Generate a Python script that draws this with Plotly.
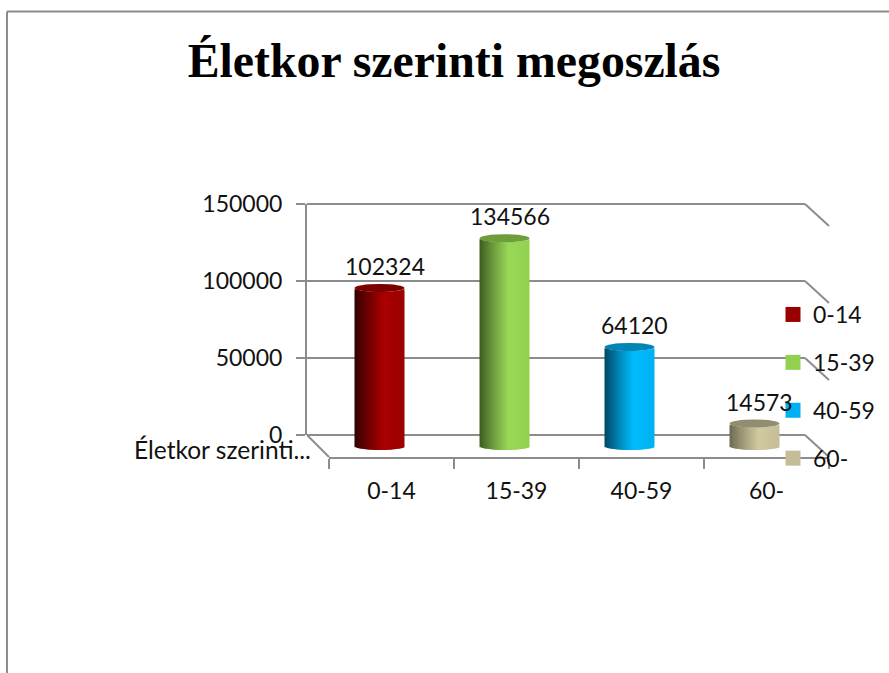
import plotly.graph_objects as go
import math

categories = ["0-14", "15-39", "40-59", "60-"]
values = [102324, 134566, 64120, 14573]
y_ticks = [0, 50000, 100000, 150000]
y_tick_text = ["0", "50000", "100000", "150000"]
colors = ["#9b0000", "#92d050", "#00b0f0", "#c4bd97"]
dark = ["#300000", "#3c5a20", "#004660", "#6c6850"]
bright = ["#aa0000", "#9ad858", "#00bcff", "#d0c9a0"]
top_colors = ["#7c0000", "#6e9e3c", "#0085b5", "#918d70"]

W, H = 889, 673
GRAY = "#8c8c8c"
TEXT = "#111111"
FONT = "Lato"
FS = 23


def fx(p):
    return p / W


def fy(p):
    return 1 - p / H


def mix(c1, c2, t):
    a = [int(c1[i:i + 2], 16) for i in (1, 3, 5)]
    b = [int(c2[i:i + 2], 16) for i in (1, 3, 5)]
    return "#%02x%02x%02x" % tuple(round(a[k] + (b[k] - a[k]) * t) for k in range(3))


fig = go.Figure()

# wall subplot (grid) and front axis (labels)
fig.add_trace(go.Scatter(x=[None], y=[None], xaxis="x", yaxis="y", showlegend=False, hoverinfo="skip"))
fig.add_trace(go.Scatter(x=categories, y=[None] * 4, xaxis="x2", yaxis="y3", showlegend=False, hoverinfo="skip"))

# cylinders: vertical shaded slices
N = 25
BAR_W = 0.4
E_BAR = 2590  # ellipse half-height in data units
for i in range(N):
    t0 = i / N
    tm = (i + 0.5) / N
    u = 2 * tm - 1
    b = E_BAR * math.sqrt(max(0, 1 - u * u))
    cols = []
    for k in range(4):
        if tm < 0.58:
            cols.append(mix(dark[k], bright[k], (tm / 0.58) ** 0.9))
        else:
            cols.append(mix(bright[k], colors[k], (tm - 0.58) / 0.42))
    slice_w = BAR_W / N * (1.6 if i < N - 1 else 1.0)
    fig.add_trace(go.Bar(
        x=categories, y=values, base=[-b] * 4,
        width=slice_w, offset=-BAR_W / 2 + t0 * BAR_W,
        marker=dict(color=cols, opacity=1, line=dict(width=0)),
        xaxis="x3", yaxis="y2", showlegend=False, hoverinfo="skip",
    ))

# legend entries
for c, col in zip(categories, colors):
    fig.add_trace(go.Scatter(
        x=[None], y=[None], mode="markers", name=c, xaxis="x", yaxis="y",
        marker=dict(symbol="square", size=15, color=col, line=dict(width=0)),
        legendgroup=c,
    ))

shapes = []
# cylinder tops
for k, v in enumerate(values):
    shapes.append(dict(type="circle", xref="x3", yref="y2", layer="above",
                       x0=k - BAR_W / 2, x1=k + BAR_W / 2, y0=v - E_BAR, y1=v + E_BAR,
                       fillcolor=top_colors[k], line=dict(width=0)))


def seg(x0, y0, x1, y1):
    return dict(type="line", xref="paper", yref="paper", layer="below",
                x0=fx(x0), x1=fx(x1), y0=fy(y0), y1=fy(y1), line=dict(color=GRAY, width=2))


# outer frame
shapes.append(seg(7, 11.5, 889, 11.5))
shapes.append(seg(7, 11.5, 7, 673))
# wall returns
for v in y_ticks:
    py = 435 - v * 231 / 150000
    shapes.append(seg(805, py, 829, py + 22))
# wall edges at the ends of the value range
shapes.append(seg(307, 204, 805, 204))
shapes.append(seg(307, 435, 805, 435))
# floor left edge
shapes.append(seg(307, 435, 329, 457))

annotations = []
for k, v in enumerate(values):
    annotations.append(dict(x=categories[k], y=v, xref="x3", yref="y2", text=str(v),
                            showarrow=False, xshift=5, yshift=22,
                            font=dict(family=FONT, size=FS, color=TEXT)))
annotations.append(dict(x=fx(131.5), y=fy(449.5), xref="paper", yref="paper", xanchor="left", yanchor="middle",
                        text="Életkor szerinti...", showarrow=False,
                        font=dict(family=FONT, size=24.5, color=TEXT)))

fig.update_layout(
    width=W, height=H, margin=dict(l=0, r=0, t=0, b=0, autoexpand=False),
    paper_bgcolor="white", plot_bgcolor="rgba(0,0,0,0)",
    barmode="overlay", shapes=shapes, annotations=annotations,
    title=dict(text="Életkor szerinti megoszlás", x=454 / W, xanchor="center", y=fy(60), yanchor="middle",
               font=dict(family="Liberation Serif", size=47.8, color="#000000", weight=700)),
    legend=dict(x=fx(773), y=fy(293), xanchor="left", yanchor="top", tracegroupgap=15,
                bgcolor="rgba(0,0,0,0)", font=dict(family=FONT, size=FS, color=TEXT)),
    xaxis=dict(domain=[fx(307), fx(805)], anchor="y", visible=False, range=[0, 1], fixedrange=True),
    yaxis=dict(domain=[fy(435), fy(204)], anchor="x", range=[0, 150000], tickmode="array",
               tickvals=y_ticks, ticktext=y_tick_text, showgrid=True, gridcolor=GRAY, gridwidth=2,
               showline=True, linecolor=GRAY, linewidth=2, ticks="outside", ticklen=9, tickcolor=GRAY,
               tickwidth=2, zeroline=False, ticklabelstandoff=9, tickfont=dict(family=FONT, size=FS, color=TEXT)),
    xaxis2=dict(domain=[fx(329), fx(829)], anchor="y3", type="category", categoryarray=categories,
                categoryorder="array", range=[-0.5, 3.5], tickson="boundaries", ticks="outside", ticklen=10,
                tickcolor=GRAY, tickwidth=2, showline=True, linecolor=GRAY, linewidth=2, showgrid=False,
                tickangle=0, ticklabelstandoff=12, tickfont=dict(family=FONT, size=FS, color=TEXT)),
    yaxis3=dict(domain=[fy(457), fy(450)], anchor="x2", visible=False, range=[0, 1]),
    xaxis3=dict(domain=[fx(317), fx(817)], anchor="y2", visible=False, type="category",
                categoryarray=categories, categoryorder="array", range=[-0.5, 3.5]),
    yaxis2=dict(domain=[fy(455.3), fy(214.4)], anchor="x3", visible=False, range=[-6000, 150000]),
)

fig.write_html("out.html", post_script="document.body.style.margin='0';document.body.style.overflow='hidden';",
               config=dict(displayModeBar=False))
